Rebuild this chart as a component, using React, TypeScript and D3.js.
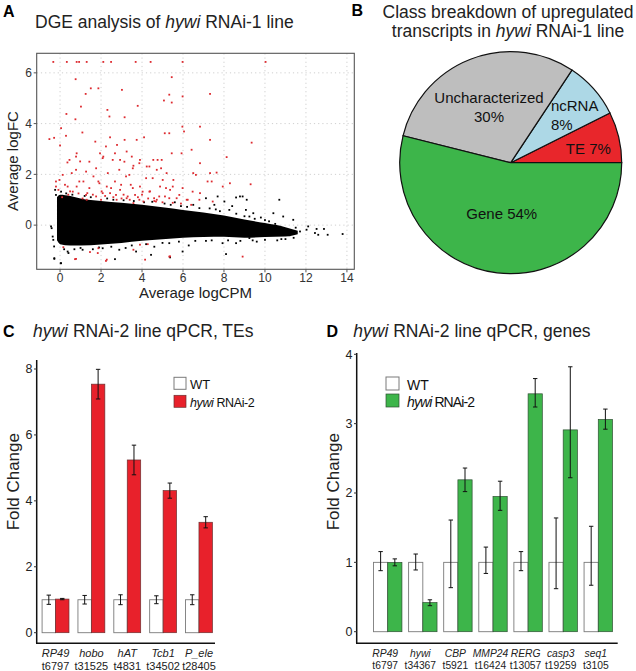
import React from 'react';
import * as d3 from 'd3';

// ---------- Panel A data (MA plot) ----------
// dense black cloud, upper / lower envelope
const cloudX = [-0.15, 0, 0.5, 1, 2, 3, 4, 5, 6, 7, 8, 9, 10, 11, 11.6];
const cloudTop = [1.1, 1.2, 1.15, 1.05, 0.95, 0.88, 0.8, 0.7, 0.6, 0.5, 0.38, 0.22, 0.08, -0.08, -0.22];
const cloudBottom = [-0.6, -0.75, -0.8, -0.8, -0.76, -0.7, -0.62, -0.56, -0.5, -0.47, -0.46, -0.5, -0.47, -0.45, -0.36];

const blackPoints: [number, number][] = [
  [-0.33, -0.58], [-0.41, -0.12], [-0.29, -0.84], [-0.28, -1.33], [0.03, -1.5], [0.41, -1.1],
  [2.68, -1.34], [5.37, -1.27], [10.7, 1.0], [8.78, 1.13], [9.11, 1.0], [9.43, 0.47],
  [10.41, 0.47], [10.89, 0.34], [11.38, 0.21], [11.71, -0.25], [12.03, -0.18], [12.11, -0.05],
  [12.44, -0.31], [12.52, -0.15], [12.88, -0.15], [12.6, -0.38], [13.06, -0.38], [13.79, -0.35],
  [7.12, 1.06], [7.69, 1.13], [8.02, 0.93], [8.59, 1.09], [8.91, 1.13], [6.8, 0.67], [7.53, 0.8],
  [8.26, 0.6], [9.07, 0.6], [9.24, 0.34], [5.33, -0.71], [5.98, -1.04], [4.44, -1.17], [7.93, -0.71],
  [8.59, -0.71], [9.24, -0.51], [7.12, -0.62], [6.28, -0.8], [8.1, -1.14], [-0.36, -0.45],
  [-0.44, -0.05], [-0.28, -1.3], [0.05, -1.5], [0.37, -1.04], [1.1, -0.97], [2.08, -0.91],
  [2.89, -0.97], [3.71, -1.04], [-0.2, 1.19], [0.05, 1.32], [-0.24, 1.39], [9.8, 0.3], [10.2, 0.15],
  [10.6, -0.6], [11.0, -0.55], [9.6, -0.65], [8.4, 0.75], [7.6, 0.62], [6.5, 0.8], [5.6, 0.9],
  [4.6, -0.85], [3.2, -0.9], [1.6, -0.95], [0.7, -0.95], [11.2, -0.4], [11.5, -0.1], [10.3, -0.2],
  [0.3, 1.25], [0.6, 1.2], [1.2, 1.15], [1.5, 1.1], [2.3, 1.05], [2.6, 1.0], [3.1, 0.98], [3.6, 0.95],
  [4.1, 0.9], [4.5, 0.92], [5.1, 0.85], [5.4, 0.8], [5.9, 0.75], [6.2, 0.72], [7.3, 0.66], [7.8, 0.55],
  [8.6, 0.45], [9.0, 0.35], [9.5, 0.25], [10.0, 0.2], [10.5, 0.05],
  [0.2, -0.95], [1.0, -0.9], [1.9, -0.88], [2.5, -0.85], [3.5, -0.8], [4.2, -0.75], [5.0, -0.7],
  [5.8, -0.65], [6.6, -0.62], [7.4, -0.6], [8.2, -0.6], [8.8, -0.62], [9.4, -0.6], [10.0, -0.58],
  [10.8, -0.55], [11.4, -0.5],
];

const redPoints: [number, number][] = [
  [-0.33, 6.43], [0.33, 6.43], [0.81, 6.43], [0.93, 6.43], [1.3, 6.43], [2.11, 6.43], [2.49, 6.43],
  [3.69, 6.43], [4.42, 6.43], [5.98, 6.43], [10.03, 6.43],
  [0.76, 5.75], [1.5, 5.39], [1.87, 5.39], [1.25, 5.17], [1.02, 4.67], [3.02, 5.33], [3.79, 4.7],
  [5.45, 5.83], [5.33, 5.14], [5.07, 4.91], [5.45, 4.83], [5.98, 5.07], [7.32, 5.17], [0.31, 4.38],
  [2.31, 4.54], [2.41, 4.28], [3.15, 4.25], [0.05, 3.82], [0.75, 4.17], [-0.52, 3.39], [-0.29, 3.44],
  [0, 3.14], [1.09, 3.65], [0.29, 3.52], [1.72, 3.29], [2.44, 3.46], [2.78, 3.16], [3.15, 3.36],
  [3.74, 3.36], [4.1, 3.46], [5.11, 3.62], [5.33, 3.62], [5.97, 3.88], [6.05, 3.69], [6.83, 3.88],
  [7.32, 3.36], [9.35, 3.25], [5.93, 2.83], [6.42, 2.97], [5.45, 2.83], [0.81, 2.83], [0.98, 2.51],
  [0.36, 2.47], [0.57, 2.05], [1.95, 2.83], [2.11, 2.7], [2.24, 3.1], [2.68, 2.83], [2.93, 2.57],
  [3.25, 2.9], [3.5, 2.7], [3.58, 2.34], [3.9, 2.57], [4.23, 2.31], [4.55, 2.57], [4.72, 2.18],
  [4.96, 2.57], [5.2, 2.05], [5.53, 1.78], [6.5, 2.05], [6.83, 2.44], [7.32, 2.05], [7.64, 2.07],
  [8.13, 2.68], [8.29, 1.65], [9.3, 1.61], [7.4, 1.72], [-0.2, 1.72], [-0.08, 1.39], [0.24, 1.59],
  [0.49, 1.33], [0.81, 1.52], [1.14, 1.72], [1.33, 1.26], [1.63, 1.92], [1.87, 1.72], [2.03, 1.33],
  [2.28, 1.52], [2.44, 1.26], [2.68, 1.72], [2.93, 1.39], [3.22, 1.92], [3.45, 1.59], [3.66, 1.19],
  [3.9, 1.52], [4.2, 1.85], [4.39, 1.33], [4.59, 1.06], [4.88, 1.52], [5.12, 1.13], [5.37, 1.39],
  [5.69, 1.06], [6.18, 1.0], [6.83, 1.26], [3.58, 0.87], [4.07, 0.93], [3.25, 1.06], [2.76, 1.0],
  [4.72, 1.0], [1.46, -1.06], [1.87, -0.91], [2.28, -1.36], [3.58, -0.97], [4.15, -1.36],
  [0.73, -1.34], [5.37, -1.23], [3.9, -0.77], [0.16, -0.87], [4.28, -0.75], [5.33, -1.24],
  [8.91, -1.24], [1.84, -1.1], [2.24, -1.41], [0.78, -1.33],
  [0.46, 2.57], [0.78, 2.7], [1.43, 2.5], [2.08, 2.64], [2.57, 2.57], [3.14, 2.5], [3.55, 2.24],
  [3.87, 2.44], [0.78, 2.18], [1.27, 2.11], [1.76, 2.24], [2.33, 2.05], [2.89, 2.18], [3.38, 1.98],
  [-0.03, 1.78], [0.37, 1.52], [0.94, 1.72], [1.43, 1.46], [1.92, 1.65], [2.49, 1.46], [2.98, 1.59],
  [3.55, 1.46], [4.03, 1.32], [0.62, 1.32], [1.27, 1.19], [2.08, 1.26], [2.73, 1.19], [3.3, 1.13],
  [1.76, 1.13], [3.87, 1.0], [-0.2, 1.52], [0.13, 1.98],
  [4.36, 2.31], [4.76, 2.57], [4.93, 2.24], [4.52, 1.85], [5.01, 1.78], [5.5, 1.52], [5.98, 1.46],
  [6.47, 1.32], [4.36, 1.32], [4.84, 1.13], [5.33, 1.06], [5.82, 1.19], [6.23, 1.0], [6.63, 1.98],
  [7.2, 1.72], [7.94, 1.52], [6.8, 1.0], [7.45, 0.93], [5.17, 1.46], [4.68, 0.93],
  [0.1, 1.1], [0.4, 1.2], [0.9, 1.25], [1.1, 1.05], [1.6, 1.2], [2.2, 1.15], [2.6, 1.1], [3.0, 1.05],
  [3.4, 1.0], [3.8, 1.1], [4.3, 1.05], [4.6, 0.95], [5.0, 0.9], [5.5, 0.88], [5.9, 0.85], [6.4, 0.8],
  [2.0, 1.0], [1.3, 1.0], [3.1, 1.2], [4.0, 1.2],
];

const xTicksA = [0, 2, 4, 6, 8, 10, 12, 14];
const yTicksA = [0, 2, 4, 6];

// ---------- Panel B data (pie) ----------
const pieClasses = ['TE', 'ncRNA', 'Uncharacterized', 'Gene'];
const pieValues = [7.4, 8.3, 30.4, 53.9];
const pieLabelLines = [['TE 7%'], ['ncRNA', '8%'], ['Uncharacterized', '30%'], ['Gene 54%']];
const pieColors = ['#e8262b', '#add8e6', '#bebebe', '#3db54a'];

// ---------- Panel C data ----------
const genesC = ['RP49', 'hobo', 'hAT', 'Tcb1', 'P_ele'];
const idsC = ['t6797', 't31525', 't4831', 't34502', 't28405'];
const wtC = [1, 1, 1, 1, 1];
const wtErrC = [0.14, 0.13, 0.15, 0.12, 0.15];
const rnaiC = [1.02, 7.54, 5.24, 4.31, 3.35];
const rnaiErrC = [0.02, 0.45, 0.45, 0.23, 0.17];
const yTicksC = [0, 2, 4, 6, 8];

// ---------- Panel D data ----------
const genesD = ['RP49', 'hywi', 'CBP', 'MMP24', 'RERG', 'casp3', 'seq1'];
const idsD = ['t6797', 't34367', 't5921', 't16424', 't13057', 't19259', 't3105'];
const wtD = [1, 1, 1, 1, 1, 1, 1];
const wtHiD = [1.155, 1.12, 1.61, 1.22, 1.155, 1.64, 1.52];
const wtLoD = [0.88, 0.89, 0.635, 0.84, 0.88, 0.62, 0.67];
const rnaiD = [1.0, 0.42, 2.19, 1.95, 3.43, 2.91, 3.06];
const rnaiHiD = [1.05, 0.46, 2.36, 2.17, 3.65, 3.82, 3.21];
const rnaiLoD = [0.95, 0.375, 2.02, 1.75, 3.24, 2.22, 2.92];
const yTicksD = [0, 1, 2, 3, 4];

const FONT = "'Liberation Sans', Arial, Helvetica, sans-serif";
const RED = '#e8212b';
const GREEN = '#3db54a';

function ErrBar({ x, y1, y2, cap = 2.5 }: { x: number; y1: number; y2: number; cap?: number }) {
  return (
    <g stroke="#111" strokeWidth={1}>
      <line x1={x} x2={x} y1={y1} y2={y2} />
      <line x1={x - cap} x2={x + cap} y1={y1} y2={y1} />
      <line x1={x - cap} x2={x + cap} y1={y2} y2={y2} />
    </g>
  );
}

export default function App() {
  // ---- Panel A ----
  const xA = d3.scaleLinear().domain([-1.14, 14.36]).range([36.7, 354.3]);
  const yA = d3.scaleLinear().domain([-1.74, 6.77]).range([269.3, 53.3]);
  const cloud = cloudX.map((x, i) => ({ x, t: cloudTop[i], b: cloudBottom[i] }));
  const cloudArea = d3
    .area<{ x: number; t: number; b: number }>()
    .x((d) => xA(d.x))
    .y0((d) => yA(d.b))
    .y1((d) => yA(d.t))
    .curve(d3.curveMonotoneX);

  // ---- Panel B ----
  const cx = 510.7, cy = 162.7, R = 111;
  const pie = d3.pie<number>().sort(null).startAngle(Math.PI / 2).endAngle(Math.PI / 2 - 2 * Math.PI);
  const arcs = pie(pieValues);
  const arcGen = d3.arc<d3.PieArcDatum<number>>().innerRadius(0).outerRadius(R);
  const labelR = [79, 62.4, 60, 51.4];
  const labelDA = [0.049, -0.145, 0, 0.053];
  const labelAnchor = ['middle', 'start', 'middle', 'middle'];

  // ---- Panel C ----
  const yC = d3.scaleLinear().domain([0, 8]).range([632.7, 369]);
  const xC = d3.scaleBand().domain(genesC).range([38.5, 216]).paddingInner(0.25).paddingOuter(0.1);
  const subC = d3.scaleBand().domain(['WT', 'RNAi']).range([0, xC.bandwidth()]);

  // ---- Panel D ----
  const yD = d3.scaleLinear().domain([0, 4]).range([631.7, 354.3]);
  const xD = d3.scaleBand().domain(genesD).range([370, 616]).paddingInner(0.19).paddingOuter(0.1);
  const subD = d3.scaleBand().domain(['WT', 'RNAi']).range([0, xD.bandwidth()]);

  return (
    <svg width={636} height={671} style={{ position: 'absolute', left: 0, top: 0, background: '#fff' }} fontFamily={FONT}>
      <rect x={0} y={0} width={636} height={671} fill="#fff" />
      {/* ================= Panel A ================= */}
      <text x={3} y={16.5} fontSize={16} fontWeight="bold">A</text>
      <text x={35} y={28.3} fontSize={17.5} fill="#222">
        DGE analysis of <tspan fontStyle="italic">hywi</tspan> RNAi-1 line
      </text>
      <g>
        {xTicksA.map((t) => (
          <line key={'gx' + t} x1={xA(t)} x2={xA(t)} y1={53.3} y2={269.3} stroke="#cfcfcf" strokeDasharray="1.2,3" />
        ))}
        {yTicksA.map((t) => (
          <line key={'gy' + t} x1={36.7} x2={354.3} y1={yA(t)} y2={yA(t)} stroke="#cfcfcf" strokeDasharray="1.2,3" />
        ))}
        <path d={cloudArea(cloud) || ''} fill="#000" />
        {blackPoints.map((p, i) => (
          <rect key={'b' + i} x={xA(p[0]) - 0.9} y={yA(p[1]) - 0.9} width={1.8} height={1.8} fill="#000" />
        ))}
        {redPoints.map((p, i) => (
          <rect key={'r' + i} x={xA(p[0]) - 0.9} y={yA(p[1]) - 0.9} width={1.8} height={1.8} fill="#dd2a2f" />
        ))}
        <rect x={36.7} y={53.3} width={317.6} height={216} fill="none" stroke="#555" strokeWidth={1.1} />
        {yTicksA.map((t) => (
          <g key={'ya' + t}>
            <line x1={33.7} x2={36.7} y1={yA(t)} y2={yA(t)} stroke="#555" />
            <text x={32} y={yA(t)} dy="0.35em" textAnchor="end" fontSize={12} fill="#333">{t}</text>
          </g>
        ))}
        {xTicksA.map((t) => (
          <g key={'xa' + t}>
            <line x1={xA(t)} x2={xA(t)} y1={269.3} y2={272.3} stroke="#555" />
            <text x={xA(t)} y={282} textAnchor="middle" fontSize={12} fill="#333">{t}</text>
          </g>
        ))}
        <text x={195.5} y={298} textAnchor="middle" fontSize={15} fill="#222">Average logCPM</text>
        <text transform={`translate(17.5,161) rotate(-90)`} textAnchor="middle" fontSize={15} fill="#222">Average logFC</text>
      </g>

      {/* ================= Panel B ================= */}
      <text x={351.5} y={16} fontSize={16} fontWeight="bold">B</text>
      <text x={508} y={18} textAnchor="middle" fontSize={17.5} fill="#222">Class breakdown of upregulated</text>
      <text x={508} y={36.5} textAnchor="middle" fontSize={17.5} fill="#222">
        transcripts in <tspan fontStyle="italic">hywi</tspan> RNAi-1 line
      </text>
      <g transform={`translate(${cx},${cy})`}>
        {arcs.map((a, i) => (
          <path key={pieClasses[i]} d={arcGen(a) || ''} fill={pieColors[i]} stroke="#111" strokeWidth={1.2} />
        ))}
        {arcs.map((a, i) => {
          const mid = (a.startAngle + a.endAngle) / 2 + labelDA[i];
          const lx = labelR[i] * Math.sin(mid);
          const ly = -labelR[i] * Math.cos(mid);
          const lines = pieLabelLines[i];
          return (
            <text key={'l' + i} x={lx} y={ly} textAnchor={labelAnchor[i] as any} fontSize={15} fill="#111">
              {lines.map((ln, j) => (
                <tspan key={j} x={lx} y={ly + (j - (lines.length - 1) / 2) * 19} dy="0.35em">{ln}</tspan>
              ))}
            </text>
          );
        })}
      </g>

      {/* ================= Panel C ================= */}
      <text x={3} y={336.7} fontSize={16} fontWeight="bold">C</text>
      <text x={33} y={336.7} fontSize={17.5} fill="#222">
        <tspan fontStyle="italic">hywi</tspan> RNAi-2 line qPCR, TEs
      </text>
      <g>
        {genesC.map((g, i) => {
          const x0 = xC(g)!;
          const xw = x0 + subC('WT')!;
          const xr = x0 + subC('RNAi')!;
          const bw = subC.bandwidth();
          return (
            <g key={g}>
              <rect x={xw} y={yC(wtC[i])} width={bw} height={yC(0) - yC(wtC[i])} fill="#fff" stroke="#7a7a7a" strokeWidth={0.9} />
              <rect x={xr} y={yC(rnaiC[i])} width={bw} height={yC(0) - yC(rnaiC[i])} fill={RED} stroke="#6b3030" strokeWidth={0.7} />
              <ErrBar x={xw + bw / 2} y1={yC(wtC[i] + wtErrC[i])} y2={yC(wtC[i] - wtErrC[i])} cap={2.2} />
              <ErrBar x={xr + bw / 2} y1={yC(rnaiC[i] + rnaiErrC[i])} y2={yC(rnaiC[i] - rnaiErrC[i])} cap={2.2} />
              <text x={x0 + xC.bandwidth() / 2} y={657} textAnchor="middle" fontSize={11} fontStyle="italic" fill="#222">{g}</text>
              <text x={x0 + xC.bandwidth() / 2} y={669.5} textAnchor="middle" fontSize={11} fill="#222">{idsC[i]}</text>
            </g>
          );
        })}
        <line x1={36.7} x2={36.7} y1={360} y2={643.3} stroke="#111" strokeWidth={1.5} />
        <line x1={36} x2={215} y1={643.3} y2={643.3} stroke="#111" strokeWidth={1.5} />
        {yTicksC.map((t) => (
          <g key={'yc' + t}>
            <line x1={34} x2={36.7} y1={yC(t)} y2={yC(t)} stroke="#333" />
            <text x={32.5} y={yC(t)} dy="0.35em" textAnchor="end" fontSize={12.5} fill="#222">{t}</text>
          </g>
        ))}
        <text transform={`translate(19,481.7) rotate(-90)`} textAnchor="middle" fontSize={17} fill="#222">Fold Change</text>
        {/* legend */}
        <rect x={174} y={377.3} width={12} height={12} fill="#fff" stroke="#7a7a7a" />
        <rect x={174} y={395.3} width={12} height={12} fill={RED} stroke="#6b3030" strokeWidth={0.7} />
        <text x={190} y={389.3} fontSize={13} fill="#111">WT</text>
        <text x={190} y={407} fontSize={12.5} fill="#111" letterSpacing={-0.4}>
          <tspan fontStyle="italic">hywi</tspan> RNAi-2
        </text>
      </g>

      {/* ================= Panel D ================= */}
      <text x={326.5} y={336.7} fontSize={16} fontWeight="bold">D</text>
      <text x={353.3} y={336.7} fontSize={17.5} fill="#222">
        <tspan fontStyle="italic">hywi</tspan> RNAi-2 line qPCR, genes
      </text>
      <g>
        {genesD.map((g, i) => {
          const x0 = xD(g)!;
          const xw = x0 + subD('WT')!;
          const xr = x0 + subD('RNAi')!;
          const bw = subD.bandwidth();
          return (
            <g key={g}>
              <rect x={xw} y={yD(wtD[i])} width={bw} height={yD(0) - yD(wtD[i])} fill="#fff" stroke="#7a7a7a" strokeWidth={0.9} />
              <rect x={xr} y={yD(rnaiD[i])} width={bw} height={yD(0) - yD(rnaiD[i])} fill={GREEN} stroke="#2f4f33" strokeWidth={0.7} />
              <ErrBar x={xw + bw / 2} y1={yD(wtHiD[i])} y2={yD(wtLoD[i])} cap={2.2} />
              <ErrBar x={xr + bw / 2} y1={yD(rnaiHiD[i])} y2={yD(rnaiLoD[i])} cap={2.2} />
              <text x={x0 + xD.bandwidth() / 2 - 2.5} y={656.5} textAnchor="middle" fontSize={10.3} fontStyle="italic" fill="#222">{g}</text>
              <text x={x0 + xD.bandwidth() / 2 - 2.5} y={669} textAnchor="middle" fontSize={10.3} fill="#222">{idsD[i]}</text>
            </g>
          );
        })}
        <line x1={356.7} x2={356.7} y1={353} y2={643.3} stroke="#111" strokeWidth={1.5} />
        <line x1={356} x2={617.7} y1={643.3} y2={643.3} stroke="#111" strokeWidth={1.5} />
        {yTicksD.map((t) => (
          <g key={'yd' + t}>
            <line x1={354} x2={356.7} y1={yD(t)} y2={yD(t)} stroke="#333" />
            <text x={352.5} y={yD(t)} dy="0.35em" textAnchor="end" fontSize={12.5} fill="#222">{t}</text>
          </g>
        ))}
        <text transform={`translate(339,481.7) rotate(-90)`} textAnchor="middle" fontSize={17} fill="#222">Fold Change</text>
        {/* legend */}
        <rect x={386} y={377} width={13} height={13} fill="#fff" stroke="#7a7a7a" />
        <rect x={386} y={394} width={13} height={13} fill={GREEN} stroke="#2f4f33" strokeWidth={0.7} />
        <text x={407} y={390} fontSize={14} fill="#111">WT</text>
        <text x={407} y={406.5} fontSize={14} fill="#111" letterSpacing={-0.9}>
          <tspan fontStyle="italic">hywi</tspan> RNAi-2
        </text>
      </g>
    </svg>
  );
}
